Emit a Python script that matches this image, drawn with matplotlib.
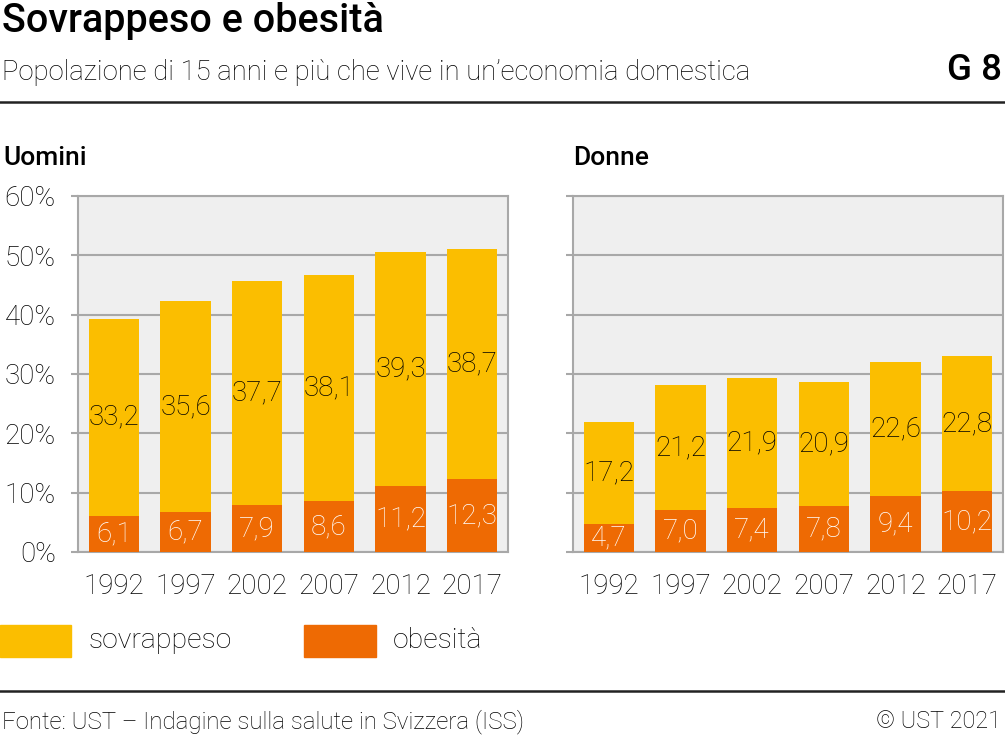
import numpy as np
import matplotlib
matplotlib.use("Agg")
import matplotlib.pyplot as plt
from matplotlib.patches import Rectangle
from matplotlib.lines import Line2D

years = ["1992", "1997", "2002", "2007", "2012", "2017"]
men_obese = [6.1, 6.7, 7.9, 8.6, 11.2, 12.3]
men_over = [33.2, 35.6, 37.7, 38.1, 39.3, 38.7]
women_obese = [4.7, 7.0, 7.4, 7.8, 9.4, 10.2]
women_over = [17.2, 21.2, 21.9, 20.9, 22.6, 22.8]
yticks = [0, 10, 20, 30, 40, 50, 60]

YELLOW = "#fbbe00"
ORANGE = "#ee6a03"
GRID = "#a8a8a8"
BG = "#efefef"
TXT = "#000000"
FS = 20

plt.rcParams['font.family'] = ['Roboto', 'DejaVu Sans']

W, H = 1005, 740
fig = plt.figure(figsize=(W / 100, H / 100), dpi=100)


def fmt(v):
    return f"{v:.1f}".replace(".", ",")


def panel(left, obese, over, show_labels):
    ax = fig.add_axes([left / W, (H - 552) / H, 430 / W, 356 / H])
    ax.set_facecolor(BG)
    x = np.arange(len(years))
    ax.bar(x, obese, width=0.7, color=ORANGE, zorder=3)
    ax.bar(x, over, bottom=obese, width=0.7, color=YELLOW, zorder=3)
    for i in range(len(years)):
        ax.text(x[i], obese[i] / 2, fmt(obese[i]), ha="center", va="center",
                color="white", fontsize=FS, fontweight="light", zorder=4)
        ax.text(x[i], obese[i] + over[i] / 2, fmt(over[i]), ha="center", va="center",
                color=TXT, fontsize=FS, fontweight="light", zorder=4)
    ax.set_xlim(-0.5, len(years) - 0.5)
    ax.set_ylim(0, 60)
    ax.set_yticks(yticks)
    ax.yaxis.grid(True, color=GRID, linewidth=1.5, zorder=1)
    ax.set_xticks(x)
    ax.set_xticklabels(years)
    ax.tick_params(axis="x", length=0, pad=15, labelsize=FS, labelcolor=TXT)
    ax.tick_params(axis="y", length=5, width=1.5, color=GRID, pad=11,
                   labelsize=FS, labelcolor=TXT, labelleft=show_labels)
    if show_labels:
        ax.set_yticklabels([f"{v}%" for v in yticks])
        for lab in ax.get_yticklabels():
            lab.set_fontweight("light")
    for lab in ax.get_xticklabels():
        lab.set_fontweight("light")
    for s in ax.spines.values():
        s.set_color(GRID)
        s.set_linewidth(1.5)
    return ax


panel(78, men_obese, men_over, True)
panel(573, women_obese, women_over, False)

fig.text(2 / W, 1 - 21 / H, "Sovrappeso e obesità", fontsize=28.5, fontweight="medium",
         va="center", ha="left", color="black")
fig.text(2 / W, 1 - 73 / H, "Popolazione di 15 anni e più che vive in un\u2019economia domestica",
         fontsize=19.8, fontweight="light", va="center", ha="left", color=TXT)
fig.text(1002 / W, 1 - 70 / H, "G 8", fontsize=26.5, fontweight="medium",
         va="center", ha="right", color="black")
fig.text(3 / W, 1 - 158 / H, "Uomini", fontsize=19, fontweight="medium",
         va="center", ha="left", color="black")
fig.text(573 / W, 1 - 158 / H, "Donne", fontsize=19, fontweight="medium",
         va="center", ha="left", color="black")

for yy in (102, 691):
    fig.add_artist(Line2D([0, 1], [1 - yy / H, 1 - yy / H], color="#222222", linewidth=1.8))

fig.add_artist(Rectangle((0, 1 - 657 / H), 71 / W, 32 / H, color=YELLOW, transform=fig.transFigure))
fig.text(89 / W, 1 - 641 / H, "sovrappeso", fontsize=20.5, fontweight="light",
         va="center", ha="left", color=TXT)
fig.add_artist(Rectangle((304 / W, 1 - 657 / H), 72 / W, 32 / H, color=ORANGE, transform=fig.transFigure))
fig.text(393 / W, 1 - 641 / H, "obesità", fontsize=20.5, fontweight="light",
         va="center", ha="left", color=TXT)

fig.text(2 / W, 1 - 722 / H, "Fonte: UST \u2013 Indagine sulla salute in Svizzera (ISS)", fontsize=17.3,
         fontweight="light", va="center", ha="left", color=TXT)
fig.text(1001 / W, 1 - 722 / H, "\u00a9 UST 2021", fontsize=16.8, fontweight="light",
         va="center", ha="right", color=TXT)

fig.savefig("out.png", dpi=100)
